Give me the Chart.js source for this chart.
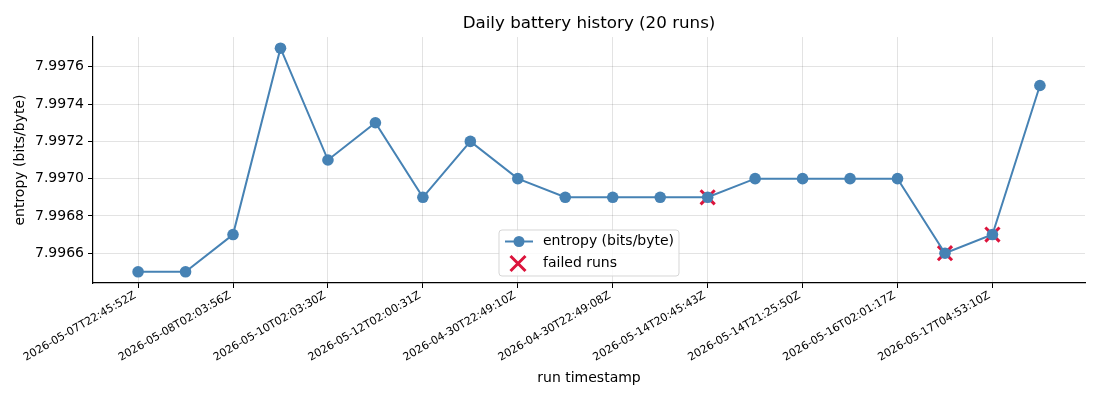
<!DOCTYPE html>
<html>
<head>
<meta charset="utf-8">
<script src="https://cdn.jsdelivr.net/npm/chart.js@4"></script>
<style>
  html, body { margin: 0; padding: 0; background: #fff; }
  #wrap { width: 1100px; height: 400px; }
</style>
</head>
<body>
<div id="wrap"><canvas id="chart" width="1100" height="400"></canvas></div>
<script>
// run index -> entropy value
const runIndex = [0, 1, 2, 3, 4, 5, 6, 7, 8, 9, 10, 11, 12, 13, 14, 15, 16, 17, 18, 19];
const entropy = [7.9965, 7.9965, 7.9967, 7.9977, 7.9971, 7.9973, 7.9969, 7.9972, 7.9970, 7.9969,
                 7.9969, 7.9969, 7.9969, 7.9970, 7.9970, 7.9970, 7.9970, 7.9966, 7.9967, 7.9975];
const failedRuns = [12, 17, 18];

// only every other run gets a tick label
const tickRuns = [0, 2, 4, 6, 8, 10, 12, 14, 16, 18];
const tickLabels = [
    '2026-05-07T22:45:52Z', '2026-05-08T02:03:56Z', '2026-05-10T02:03:30Z',
    '2026-05-12T02:00:31Z', '2026-04-30T22:49:10Z', '2026-04-30T22:49:08Z',
    '2026-05-14T20:45:43Z', '2026-05-14T21:25:50Z', '2026-05-16T02:01:17Z',
    '2026-05-17T04:53:10Z'
];
const yTicks = [7.9966, 7.9968, 7.9970, 7.9972, 7.9974, 7.9976];

const FONT = 'DejaVu Sans';
const LINE = '#4682b4';
const FAIL = '#dc143c';
const GRID = 'rgba(0,0,0,0.11)';

const linePoints = runIndex.map((x, i) => ({ x: x, y: entropy[i] }));
const failPoints = failedRuns.map(i => ({ x: i, y: entropy[i] }));

// matplotlib-style legend, lower center inside the axes
const innerLegend = {
    id: 'innerLegend',
    afterDatasetsDraw(chart) {
        const ctx = chart.ctx;
        const area = chart.chartArea;
        const w = 180, h = 46;
        const x0 = (area.left + area.right) / 2 - w / 2;
        const y0 = area.bottom - 7 - h;
        ctx.save();
        ctx.beginPath();
        ctx.roundRect(x0, y0, w, h, 3);
        ctx.fillStyle = 'rgba(255,255,255,0.8)';
        ctx.fill();
        ctx.strokeStyle = 'rgba(204,204,204,0.8)';
        ctx.lineWidth = 1;
        ctx.stroke();

        // entry 1: line with circle
        const ly = y0 + 11.5;
        ctx.strokeStyle = LINE;
        ctx.lineWidth = 2;
        ctx.beginPath();
        ctx.moveTo(x0 + 6, ly);
        ctx.lineTo(x0 + 34, ly);
        ctx.stroke();
        ctx.fillStyle = LINE;
        ctx.beginPath();
        ctx.arc(x0 + 20, ly, 5.5, 0, Math.PI * 2);
        ctx.fill();

        // entry 2: red cross
        const fy = y0 + 33.5;
        const cx = x0 + 19, r = 7.5;
        ctx.strokeStyle = FAIL;
        ctx.lineWidth = 3;
        ctx.beginPath();
        ctx.moveTo(cx - r, fy - r); ctx.lineTo(cx + r, fy + r);
        ctx.moveTo(cx + r, fy - r); ctx.lineTo(cx - r, fy + r);
        ctx.stroke();

        ctx.fillStyle = '#000';
        ctx.font = '14px "' + FONT + '"';
        ctx.textBaseline = 'middle';
        ctx.textAlign = 'left';
        ctx.fillText('entropy (bits/byte)', x0 + 44, ly);
        ctx.fillText('failed runs', x0 + 44, fy);
        ctx.restore();
    }
};

new Chart(document.getElementById('chart'), {
    type: 'line',
    data: {
        datasets: [{
            label: 'entropy (bits/byte)',
            data: linePoints,
            borderColor: LINE,
            backgroundColor: LINE,
            borderWidth: 2,
            pointRadius: 5.8,
            pointHoverRadius: 5.8,
            pointBorderWidth: 0,
            tension: 0,
            order: 0
        }, {
            label: 'failed runs',
            data: failPoints,
            showLine: false,
            pointStyle: 'crossRot',
            pointRadius: 10,
            pointHoverRadius: 10,
            pointBorderWidth: 3,
            borderColor: FAIL,
            backgroundColor: FAIL,
            order: 1
        }]
    },
    options: {
        responsive: false,
        animation: false,
        layout: { padding: { left: 0, right: 15, top: 0, bottom: 0 } },
        plugins: {
            legend: { display: false },
            tooltip: { enabled: false },
            title: {
                display: true,
                fullSize: false,
                text: 'Daily battery history (20 runs)',
                color: '#000',
                font: { family: FONT, size: 16.7, weight: 'normal' },
                padding: { top: 14, bottom: 3 }
            }
        },
        scales: {
            x: {
                type: 'linear',
                min: -0.95,
                max: 19.95,
                afterBuildTicks(scale) {
                    scale.ticks = tickRuns.map(v => ({ value: v }));
                },
                afterFit(scale) { scale.height = 117; },
                ticks: {
                    autoSkip: false,
                    minRotation: 30,
                    maxRotation: 30,
                    padding: 1,
                    labelOffset: -3,
                    color: '#000',
                    font: { family: FONT, size: 11 },
                    callback: (v) => tickLabels[tickRuns.indexOf(v)]
                },
                grid: { color: GRID, tickColor: '#000', tickLength: 5, lineWidth: 1 },
                border: { display: true, color: '#000', width: 1.2 },
                title: {
                    display: true,
                    text: 'run timestamp',
                    color: '#000',
                    font: { family: FONT, size: 14 },
                    padding: { top: 0, bottom: 13 }
                }
            },
            y: {
                min: 7.99644,
                max: 7.99776,
                afterBuildTicks(scale) {
                    scale.ticks = yTicks.map(v => ({ value: v }));
                },
                afterFit(scale) { scale.width = 93; },
                ticks: {
                    padding: 4,
                    color: '#000',
                    font: { family: FONT, size: 14 },
                    callback: (v) => v.toFixed(4)
                },
                grid: { color: GRID, tickColor: '#000', tickLength: 5, lineWidth: 1 },
                border: { display: true, color: '#000', width: 1.2 },
                title: {
                    display: true,
                    text: 'entropy (bits/byte)',
                    color: '#000',
                    font: { family: FONT, size: 14 },
                    padding: { top: 12, bottom: 0 }
                }
            }
        }
    },
    plugins: [innerLegend]
});
</script>
</body>
</html>
